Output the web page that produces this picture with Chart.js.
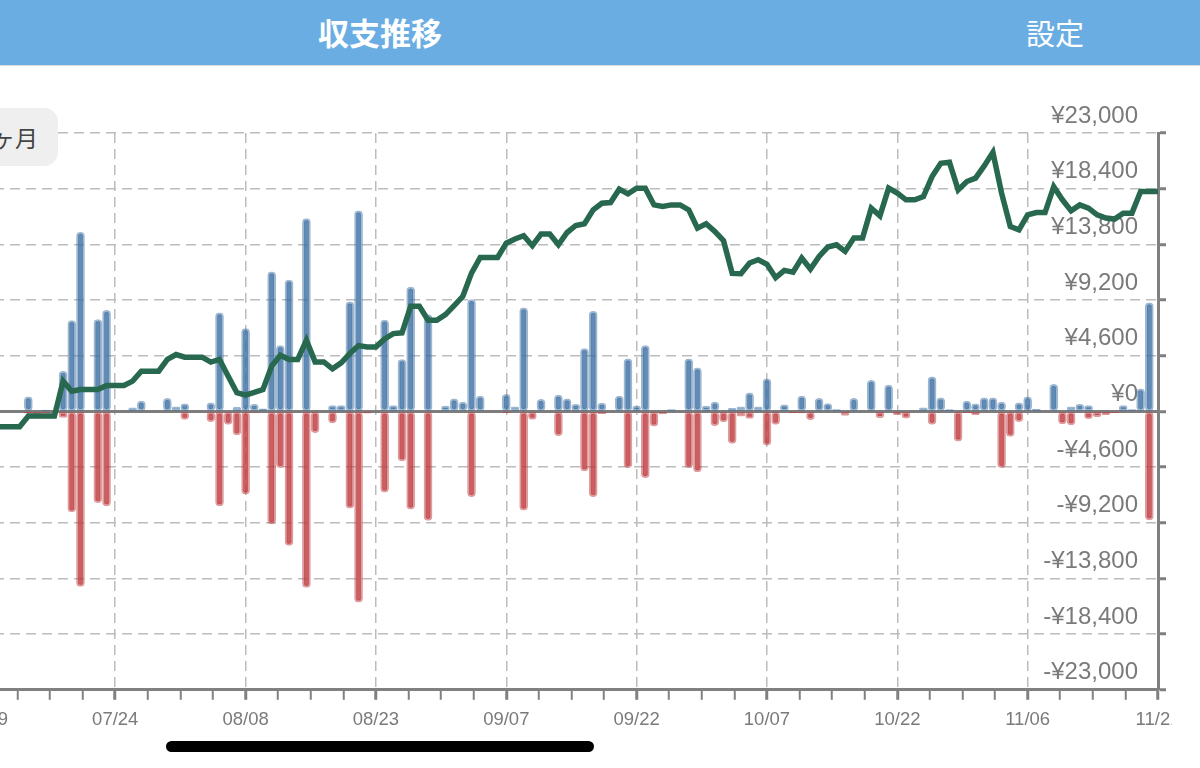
<!DOCTYPE html>
<html><head><meta charset="utf-8">
<script src="https://cdn.jsdelivr.net/npm/chart.js@4.4.0/dist/chart.umd.min.js"></script>
<style>
html,body{margin:0;padding:0;width:1200px;height:768px;overflow:hidden;background:#fff;font-family:"Liberation Sans",Arial,sans-serif}
#hdr{position:absolute;left:0;top:0;width:1200px;height:65px;background:#6aade3;border-bottom:1px solid #dcdcdc}
#title{position:absolute;left:380px;top:0;transform:translateX(-50%);line-height:64px;color:#fff;font-weight:700;font-size:31px;font-family:"Noto Sans CJK JP",sans-serif;white-space:nowrap}
#setting{position:absolute;left:1055px;top:0;transform:translateX(-50%);line-height:64px;color:#fff;font-weight:400;font-size:29px;font-family:"Noto Sans CJK JP",sans-serif;white-space:nowrap}
#btn{position:absolute;left:-60px;top:108px;width:118px;height:58px;background:#efefef;border-radius:14px;color:#444;font-size:23px;font-family:"Noto Sans CJK JP",sans-serif;line-height:58px;text-align:right;box-sizing:border-box;padding-right:20px;white-space:nowrap}
#wrap{position:absolute;left:0;top:66px;width:1172px;height:702px;overflow:hidden}
#c{position:absolute;left:-102px;top:0}
#home{position:absolute;left:166px;top:741px;width:428px;height:11px;background:#000;border-radius:6px}
</style></head>
<body>
<div id="hdr"><div id="title">収支推移</div><div id="setting">設定</div></div>
<div id="wrap"><canvas id="c" width="1308" height="702"></canvas></div>
<div id="btn">6ヶ月</div>
<div id="home"></div>
<script>
// ---- data ----
const dates = [
 '07/10','07/11','07/12','07/13','07/14','07/15','07/16','07/17','07/18','07/19','07/20','07/21','07/22','07/23',
 '07/24','07/25','07/26','07/27','07/28','07/29','07/30','07/31',
 '08/01','08/02','08/03','08/04','08/05','08/06','08/07','08/08','08/09','08/10','08/11','08/12','08/13','08/14','08/15','08/16',
 '08/17','08/18','08/19','08/20','08/21','08/22','08/23','08/24','08/25','08/26','08/27','08/28','08/29','08/30','08/31',
 '09/01','09/02','09/03','09/04','09/05','09/06','09/07','09/08','09/09','09/10','09/11','09/12','09/13','09/14','09/15',
 '09/16','09/17','09/18','09/19','09/20','09/21','09/22','09/23','09/24','09/25','09/26','09/27','09/28','09/29','09/30',
 '10/01','10/02','10/03','10/04','10/05','10/06','10/07','10/08','10/09','10/10','10/11','10/12','10/13','10/14','10/15',
 '10/16','10/17','10/18','10/19','10/20','10/21','10/22','10/23','10/24','10/25','10/26','10/27','10/28','10/29','10/30','10/31',
 '11/01','11/02','11/03','11/04','11/05','11/06','11/07','11/08','11/09','11/10','11/11','11/12','11/13','11/14','11/15',
 '11/16','11/17','11/18','11/19','11/20','11/21'
];
const income = [
 0,0,0,0,1200,0,100,0,3320,7500,14800,0,7580,8350,
 0,0,300,850,0,0,1070,380,630,0,0,710,8140,0,330,6850,580,220,11530,5440,10850,0,15930,0,0,490,
 490,9050,16580,0,0,7550,490,4290,10280,0,8000,0,440,1040,770,9230,1260,0,0,1400,380,8550,0,990,
 0,1350,1040,580,5180,8270,680,0,1260,4340,440,5440,0,0,160,0,4340,3600,440,770,0,250,380,1540,
 380,2700,0,540,0,1260,0,1080,640,160,0,1080,0,2560,0,2180,0,0,0,300,2860,1130,160,0,850,630,
 1130,1130,770,0,710,1210,180,0,2230,0,380,580,490,0,0,0,490,160,1870,8960,0
];
const expense = [
 0,0,0,0,-150,-200,-150,0,-500,-8300,-14450,0,-7530,-7800,
 0,0,0,0,0,0,0,0,-660,0,0,-850,-7800,-1070,-1950,-6840,-80,0,-9290,-4640,-11070,0,-14540,-1760,0,-960,
 0,-8000,-15770,-140,0,-6680,0,-4100,-8080,0,-9000,0,0,0,0,-7050,0,0,0,-110,0,-8150,-660,0,
 0,-2000,0,0,-4920,-7050,-180,0,0,-4640,0,-5470,-1210,-200,0,0,-4640,-5000,0,-1180,-860,-2650,-390,-590,
 0,-2800,-1070,0,-120,-120,-690,0,0,0,-330,0,0,0,-520,0,-260,-550,0,0,-1070,0,0,-2450,-110,-270,
 0,0,-4640,-2060,-840,0,0,0,0,-1030,-1110,0,-600,-440,-270,-110,0,0,0,-8970,0
];
const balance = [
 -1260,-1260,-1260,-1260,-390,-390,-390,-390,2500,1670,1810,1810,1810,2140,
 2140,2140,2500,3320,3320,3320,4290,4700,4480,4480,4480,4070,4290,2910,1540,1350,1570,1810,3740,4640,4290,4290,5880,4090,4090,3520,
 4010,4780,5440,5330,5330,5990,6430,6490,8680,8680,7530,7530,8000,8740,9510,11430,12720,12720,12720,13900,14240,14510,13690,14650,
 14650,13770,14780,15360,15500,16650,17200,17250,18360,17970,18440,18440,17060,16930,17060,17060,16650,15140,15500,14870,14100,11400,11380,12260,
 12530,12150,11050,11650,11510,12670,11760,12800,13580,13770,13220,14320,14320,16790,16160,18440,18030,17480,17480,17750,19400,20500,20580,18300,18990,19270,
 20280,21400,18030,15280,15000,16240,16430,16430,18570,17480,16570,17060,16790,16240,15970,15890,16380,16380,18160,18160,18160
];
const tickLabels = ['07/09','07/24','08/08','08/23','09/07','09/22','10/07','10/22','11/06','11/21'];
const yTicks = [-23000,-18400,-13800,-9200,-4600,0,4600,9200,13800,18400,23000];

// ---- helpers ----
const base = Date.UTC(2000,6,24);
const dayOf = s => (Date.UTC(2000, +s.slice(0,2)-1, +s.slice(3)) - base) / 864e5;
const firstTick = dayOf(tickLabels[0]);
const lastTick = dayOf(tickLabels[tickLabels.length-1]);
const xs = dates.map(dayOf);
const pts = arr => arr.map((v,i) => ({x: xs[i], y: v}));
const fmt = v => v === 0 ? '¥0' : (v < 0 ? '-¥' : '¥') + Math.abs(Math.round(v)).toLocaleString('en-US');
const isMajor = v => Math.abs(((v - firstTick) / 15) - Math.round((v - firstTick) / 15)) < 1e-6;
const xTicks = [];
for (let v = firstTick - 7.5; v <= lastTick + 1e-6; v += 3.75) xTicks.push(v);

const GRID = '#bcbcbc', AXIS = '#808080', LBL = '#7a7a7a';
const blue = 'rgba(62,112,163,0.82)', blueB = 'rgba(62,112,163,0.5)';
const red = 'rgba(190,58,62,0.82)', redB = 'rgba(190,58,62,0.5)';

new Chart(document.getElementById('c'), {
  type: 'bar',
  data: {
    datasets: [
      {type: 'line', data: pts(balance), borderColor: '#27684f', borderWidth: 5.5, pointRadius: 0, tension: 0, order: 0},
      {type: 'bar', data: pts(income), backgroundColor: blue, borderColor: blueB, borderWidth: 2, borderRadius: 4, borderSkipped: false, barThickness: 8, grouped: false, order: 1},
      {type: 'bar', data: pts(expense), backgroundColor: red, borderColor: redB, borderWidth: 2, borderRadius: 4, borderSkipped: false, barThickness: 8, grouped: false, order: 1},
      {type: 'line', data: [{x: xs[0], y: 0}, {x: xs[xs.length-1], y: 0}], borderColor: '#7d7d7d', borderWidth: 3, pointRadius: 0, order: 3}
    ]
  },
  options: {
    responsive: false, animation: false,
    layout: {padding: {top: 67, right: 40, bottom: 28, left: 0}},
    plugins: {legend: {display: false}, tooltip: {enabled: false}},
    scales: {
      x: {
        type: 'linear', min: firstTick - 10, max: lastTick, offset: false,
        afterBuildTicks: s => { s.ticks = xTicks.map(v => ({value: v})); },
        ticks: {autoSkip: false, maxRotation: 0, padding: 9, color: LBL,
          font: {family: '"Liberation Sans", Arial, sans-serif', size: 18.5},
          callback: v => isMajor(v) ? tickLabels[Math.round((v - firstTick) / 15)] || '' : ''},
        grid: {offset: false, lineWidth: 1.5,
          color: c => isMajor(c.tick.value) ? GRID : 'rgba(0,0,0,0)',
          tickColor: AXIS, tickWidth: c => isMajor(c.tick.value) ? 3 : 2, tickLength: 10},
        border: {display: true, color: AXIS, width: 3, dash: [10, 6]}
      },
      y: {
        position: 'right', min: yTicks[0], max: yTicks[yTicks.length-1],
        afterBuildTicks: s => { s.ticks = yTicks.map(v => ({value: v})); },
        ticks: {mirror: true, padding: 0, labelOffset: -17, color: LBL,
          font: {family: '"Liberation Sans", Arial, sans-serif', size: 24},
          callback: v => fmt(v) + '   '},
        grid: {lineWidth: 1.5, color: c => c.tick.value === 0 ? 'rgba(0,0,0,0)' : GRID,
          tickColor: AXIS, tickWidth: 3, tickLength: 8},
        border: {display: true, color: AXIS, width: 3, dash: [10, 6]}
      }
    }
  }
});
</script>
</body></html>
